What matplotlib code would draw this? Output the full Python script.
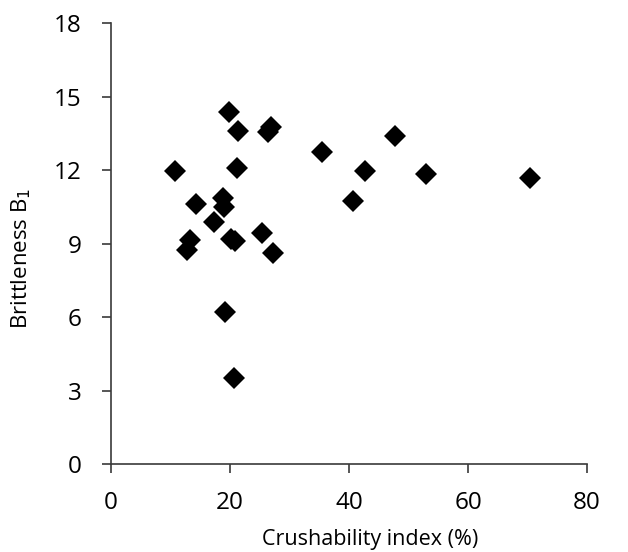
import matplotlib
matplotlib.use("Agg")
import matplotlib.pyplot as plt

# crushability index (%) and brittleness B1
crushability = [10.8, 19.8, 21.3, 26.4, 26.9, 21.1, 14.2, 18.9, 19.0, 17.3,
                13.2, 12.7, 20.8, 20.2, 25.3, 27.3, 19.2, 20.6,
                35.5, 47.7, 42.7, 40.7, 52.9, 70.4]
brittleness = [11.97, 14.37, 13.6, 13.55, 13.75, 12.07, 10.6, 10.84, 10.5, 9.89,
               9.14, 8.73, 9.1, 9.2, 9.42, 8.6, 6.19, 3.52,
               12.72, 13.39, 11.96, 10.75, 11.85, 11.66]

x_ticks = [0, 20, 40, 60, 80]
y_ticks = [0, 3, 6, 9, 12, 15, 18]

plt.rcParams["font.family"] = ["Open Sans", "DejaVu Sans"]

fig = plt.figure(figsize=(6.28, 5.52), dpi=100)
ax = fig.add_axes([0.1768, 0.1594, 0.7579, 0.7989])

ax.plot(crushability, brittleness, linestyle="none", marker="D",
        markersize=11, color="black", markeredgewidth=0)

ax.set_xlim(0, 80)
ax.set_ylim(0, 18)
ax.set_xticks(x_ticks)
ax.set_yticks(y_ticks)

for side in ["top", "right"]:
    ax.spines[side].set_visible(False)
for side in ["left", "bottom"]:
    ax.spines[side].set_color("#3a3a3a")
    ax.spines[side].set_linewidth(1.2)

ax.tick_params(direction="out", length=6.2, width=1.2, color="#3a3a3a",
               labelsize=17.5, labelcolor="black")
ax.tick_params(axis="y", pad=15)
ax.tick_params(axis="x", pad=13)

ax.set_xlabel("Crushability index (%)", fontsize=15.5)
ax.xaxis.set_label_coords(0.545, -0.1837)
ax.xaxis.label.set_va("baseline")

ax.set_ylabel("Brittleness B$_1$", fontsize=16)
ax.yaxis.set_label_coords(-0.189, 0.467)
ax.yaxis.label.set_va("center")

fig.savefig("out.png", dpi=100)
